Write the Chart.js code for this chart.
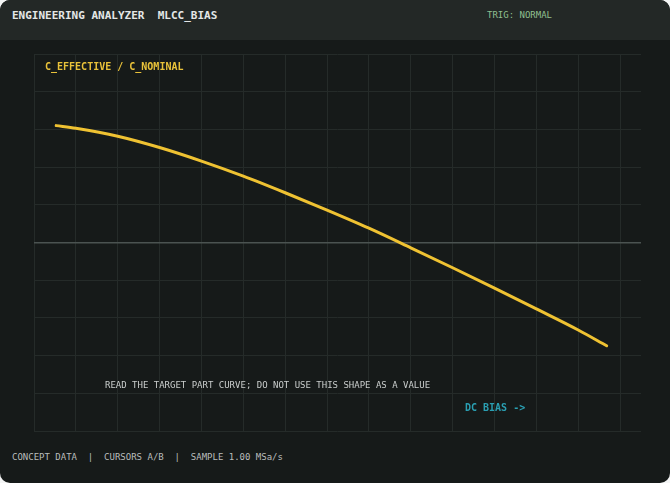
<!DOCTYPE html>
<html>
<head>
<meta charset="utf-8">
<script src="https://cdn.jsdelivr.net/npm/chart.js@4.4.1/dist/chart.umd.min.js"></script>
<style>
  html, body { margin: 0; padding: 0; background: #f4f5f5; }
  #card {
    position: relative; width: 670px; height: 483px;
    background: #161a19; border-radius: 10px; overflow: hidden;
    font-family: "DejaVu Sans Mono", monospace;
  }
  #header { position: absolute; left: 0; top: 0; width: 670px; height: 40px; background: #232826; }
  .txt { position: absolute; white-space: pre; line-height: 12px; }
  #plot { position: absolute; left: 24px; top: 44px; width: 627px; height: 397px; }
</style>
</head>
<body>
<div id="card">
  <div id="header"></div>
  <div class="txt" style="left:12px; top:10px; font-size:11px; font-weight:bold; color:#e4e7e6;">ENGINEERING ANALYZER  MLCC_BIAS</div>
  <div class="txt" style="left:487px; top:9px; font-size:9px; color:#8fbf8f;">TRIG: NORMAL</div>
  <div id="plot"><canvas id="biasChart"></canvas></div>
  <div class="txt" style="left:45px; top:61px; font-size:10px; font-weight:bold; color:#e9c23a;">C_EFFECTIVE / C_NOMINAL</div>
  <div class="txt" style="left:105px; top:379px; font-size:9px; color:#c9cdcc;">READ THE TARGET PART CURVE; DO NOT USE THIS SHAPE AS A VALUE</div>
  <div class="txt" style="left:465px; top:402px; font-size:10px; font-weight:bold; color:#2a9fb2;">DC BIAS -&gt;</div>
  <div class="txt" style="left:12px; top:451px; font-size:9px; color:#b9bdbc;">CONCEPT DATA  |  CURSORS A/B  |  SAMPLE 1.00 MSa/s</div>
</div>
<script>
// MLCC capacitance vs DC bias (concept curve)

const biasDivs = [0.53, 1, 2, 3, 4, 5, 6, 7, 8, 9, 10, 11, 12, 13, 13.68];
const capRatio = [0.810, 0.803, 0.782, 0.752, 0.716, 0.676, 0.632, 0.586, 0.538, 0.486, 0.433, 0.379, 0.324, 0.268, 0.226];

const xMin = 0;
const xMax = 14.5;
const yMin = 0;
const yMax = 1;
const centerLine = 0.5;

const gridColor = "#252b29";
const centerColor = "#4b5351";
const traceColor = "#efc232";

let points = biasDivs.map((x, i) => ({ x: x, y: capRatio[i] }));

const ctx = document.getElementById("biasChart").getContext("2d");

new Chart(ctx, {
  type: "line",
  data: {
    datasets: [
      {
        label: "C_EFFECTIVE / C_NOMINAL",
        data: points,
        borderColor: traceColor,
        borderWidth: 3,
        pointRadius: 0,
        borderCapStyle: "round",
        cubicInterpolationMode: "monotone",
        fill: false,
      },
    ],
  },
  options: {
    responsive: true,
    maintainAspectRatio: false,
    animation: false,
    layout: { padding: 10 },
    plugins: {
      legend: { display: false },
      tooltip: { enabled: false },
    },
    scales: {
      x: {
        type: "linear",
        min: xMin,
        max: xMax,
        ticks: { display: false, stepSize: 1, includeBounds: false },
        grid: { color: gridColor, lineWidth: 1, drawTicks: false },
        border: { display: false },
      },
      y: {
        min: yMin,
        max: yMax,
        ticks: { display: false, stepSize: 0.1 },
        grid: {
          drawTicks: false,
          color: function (c) {
            if (c.tick && Math.abs(c.tick.value - centerLine) < 1e-6) return centerColor;
            return gridColor;
          },
          lineWidth: function (c) {
            if (c.tick && Math.abs(c.tick.value - centerLine) < 1e-6) return 1.5;
            return 1;
          },
        },
        border: { display: false },
      },
    },
  },
});
</script>
</body>
</html>
